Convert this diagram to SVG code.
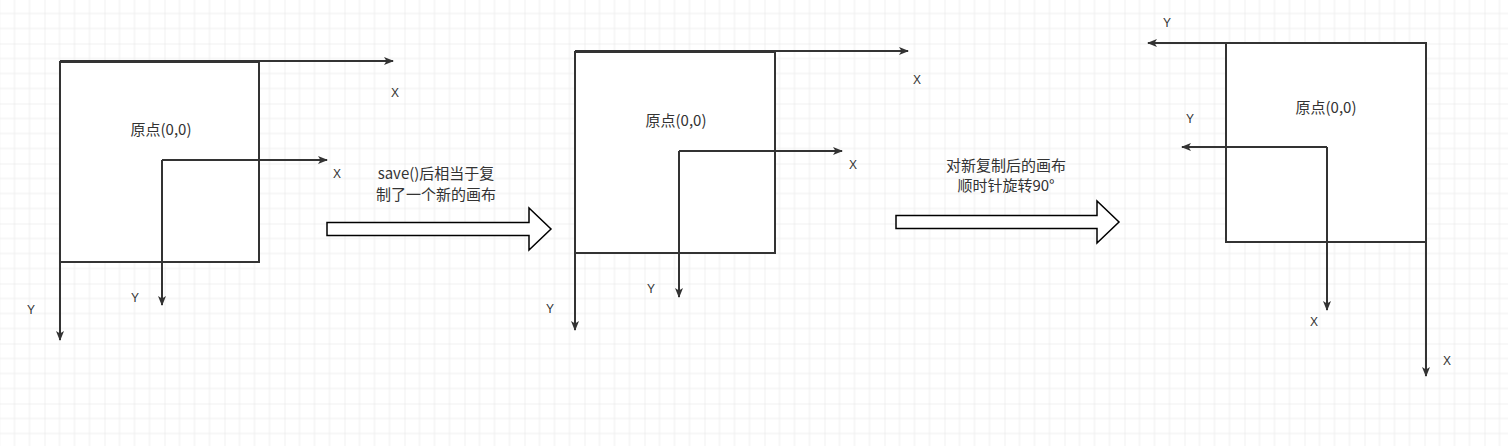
<svg xmlns="http://www.w3.org/2000/svg" width="1508" height="446" viewBox="0 0 1508 446">
<defs>
<pattern id="g" width="60" height="60" patternUnits="userSpaceOnUse" x="-15.5" y="-16.5">
<path d="M15 0V60M30 0V60M45 0V60M0 15H60M0 30H60M0 45H60" stroke="#efefef" stroke-width="1"/>
<path d="M0 0V60M0 0H60" stroke="#e3e3e3" stroke-width="1"/>
</pattern>
<marker id="a" viewBox="0 0 10 10" refX="9" refY="5" markerWidth="10" markerHeight="10" markerUnits="userSpaceOnUse" orient="auto"><path d="M0 1L10 5L0 9L2.5 5Z" fill="#333"/></marker>
<style>
.b{fill:#fff;stroke:#333;stroke-width:2}
.l{fill:none;stroke:#333;stroke-width:2;marker-end:url(#a)}
.t{font-family:"Noto Sans CJK SC","Liberation Sans",sans-serif;font-size:15px;fill:#333;text-anchor:middle}
.s{font-family:"Liberation Sans",sans-serif;font-size:12px;fill:#333;text-anchor:middle}
.ba{fill:#fff;stroke:#000;stroke-width:1.5}
</style>
</defs>
<rect width="1508" height="446" fill="#fff"/>
<rect width="1508" height="446" fill="url(#g)"/>
<g id="n1"><rect class="b" x="60" y="62" width="199" height="200"/><text class="t" x="161" y="135">原点(0,0)</text></g>
<g id="n2"><rect class="b" x="575" y="52" width="200" height="201"/><text class="t" x="676" y="126">原点(0,0)</text></g>
<g id="n3"><rect class="b" x="1226" y="43" width="200" height="199"/><text class="t" x="1326" y="113">原点(0,0)</text></g>
<g id="connectors">
<path class="l" d="M60 61H393"/><path class="l" d="M60 62V340"/>
<path class="l" d="M162 160H327"/><path class="l" d="M162 160V305"/>
<path class="l" d="M575 51H908"/><path class="l" d="M575 52V330"/>
<path class="l" d="M679 151H842"/><path class="l" d="M679 151V297"/>
<path class="l" d="M1226 43H1148"/><path class="l" d="M1426 43V376"/>
<path class="l" d="M1327 147H1182"/><path class="l" d="M1327 147V310"/>
<path class="ba" d="M327 222.5H529V208L551 229L529 250V235.5H327Z"/>
<path class="ba" d="M896 215.5H1097V201L1119 222L1097 243V228.5H896Z"/>
</g>
<g id="labels">
<text class="s" x="395" y="97">X</text><text class="s" x="31" y="314">Y</text>
<text class="s" x="337" y="178">X</text><text class="s" x="135" y="302">Y</text>
<text class="s" x="917" y="84">X</text><text class="s" x="550" y="313">Y</text>
<text class="s" x="853" y="169">X</text><text class="s" x="651" y="293">Y</text>
<text class="s" x="1167" y="27">Y</text><text class="s" x="1190" y="123">Y</text>
<text class="s" x="1314" y="326">X</text><text class="s" x="1447" y="365">X</text>
<text class="t" x="436" y="179">save()后相当于复</text><text class="t" x="436" y="200">制了一个新的画布</text>
<text class="t" x="1006" y="171">对新复制后的画布</text><text class="t" x="1006" y="191">顺时针旋转90°</text>
</g>
</svg>
